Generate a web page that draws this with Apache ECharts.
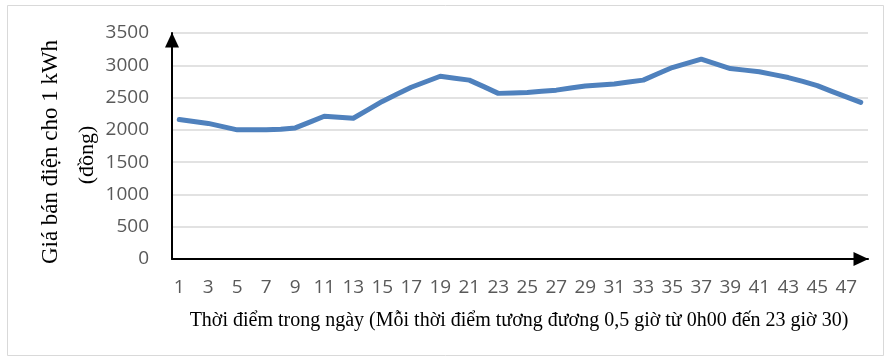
<!DOCTYPE html>
<html>
<head>
<meta charset="utf-8">
<script src="https://cdn.jsdelivr.net/npm/echarts@6/dist/echarts.min.js"></script>
<style>
  html, body { margin: 0; padding: 0; background: #ffffff; }
  #chart { width: 888px; height: 360px; }
</style>
</head>
<body>
<div id="chart"></div>
<script>
// Half-hour time slots of the day (1 = 0h00 ... 48 = 23h30)
const timeSlots = Array.from({ length: 48 }, (_, i) => String(i + 1));

// Electricity selling price per kWh (đồng) at each slot
const priceValues = [
  2160, 2130, 2100, 2050, 2000, 2000, 2000, 2010, 2030, 2120,
  2210, 2195, 2180, 2310, 2440, 2550, 2660, 2745, 2830, 2800,
  2770, 2670, 2565, 2572, 2580, 2597, 2615, 2648, 2680, 2695,
  2710, 2740, 2770, 2870, 2965, 3030, 3095, 3020, 2950, 2925,
  2900, 2855, 2810, 2750, 2685, 2595, 2510, 2425
];

// Value-axis range
const yMin = 0;
const yMax = 3500;
const yStep = 500;

const yTitle = 'Giá bán điện cho 1 kWh';
const yUnit = '(đồng)';
const xTitle = 'Thời điểm trong ngày (Mỗi thời điểm tương đương 0,5 giờ từ 0h00 đến 23 giờ 30)';

const chart = echarts.init(document.getElementById('chart'), null, { renderer: 'canvas' });

const tickFont = { fontFamily: 'Open Sans', fontSize: 19, color: '#595959' };
const serif = 'Liberation Serif';

chart.setOption({
  animation: false,
  backgroundColor: '#ffffff',
  grid: { left: 172, right: 20, top: 33, bottom: 101, containLabel: false },
  xAxis: {
    type: 'category',
    data: timeSlots,
    boundaryGap: true,
    axisLine: {
      show: true,
      lineStyle: { color: '#000000', width: 2 },
      symbol: ['none', 'triangle'],
      symbolSize: [14, 15],
      symbolOffset: [0, -7]
    },
    axisTick: { show: false },
    axisLabel: Object.assign({ interval: 1, margin: 19 }, tickFont),
    splitLine: { show: false }
  },
  yAxis: {
    type: 'value',
    min: yMin,
    max: yMax,
    interval: yStep,
    axisLine: {
      show: true,
      onZero: false,
      lineStyle: { color: '#000000', width: 2 },
      symbol: ['none', 'triangle'],
      symbolSize: [14, 15],
      symbolOffset: [0, -7]
    },
    axisTick: { show: false },
    axisLabel: Object.assign({ margin: 23, formatter: (v) => String(v) }, tickFont),
    splitLine: { show: true, lineStyle: { color: '#d9d9d9', width: 1.5 } }
  },
  series: [{
    type: 'line',
    data: priceValues,
    symbol: 'none',
    smooth: false,
    lineStyle: { color: '#4f81bd', width: 5, cap: 'round', join: 'round' },
    z: 3
  }],
  graphic: [
    {
      type: 'rect',
      shape: { x: 7.5, y: 5.5, width: 876, height: 350 },
      style: { fill: 'none', stroke: '#d9d9d9', lineWidth: 1 },
      silent: true,
      z: -1
    },
    {
      type: 'text',
      x: 51, y: 152,
      rotation: Math.PI / 2,
      style: {
        text: yTitle,
        font: '23px "' + serif + '"',
        fill: '#000000',
        align: 'center',
        verticalAlign: 'middle'
      }
    },
    {
      type: 'text',
      x: 87, y: 155,
      rotation: Math.PI / 2,
      style: {
        text: yUnit,
        font: '22px "' + serif + '"',
        fill: '#000000',
        align: 'center',
        verticalAlign: 'middle'
      }
    },
    {
      type: 'text',
      x: 519, y: 321,
      style: {
        text: xTitle,
        font: '20px "' + serif + '"',
        fill: '#000000',
        align: 'center',
        verticalAlign: 'middle'
      }
    }
  ]
});
</script>
</body>
</html>
